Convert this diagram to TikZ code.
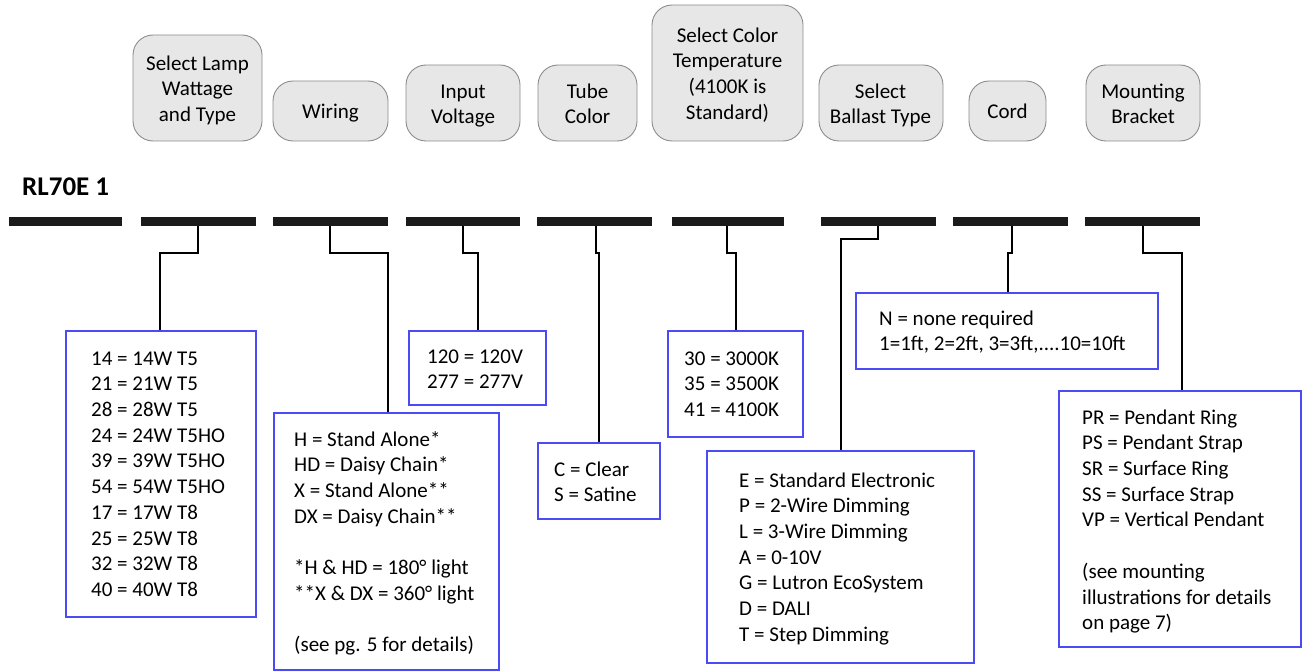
\documentclass[tikz,border=0pt]{standalone}
\usepackage{fontspec}
\setmainfont{Carlito}
\usetikzlibrary{fit}
\definecolor{boxblue}{RGB}{75,75,245}
\definecolor{pillfill}{RGB}{231,231,231}
\definecolor{pilldraw}{RGB}{140,140,140}
\definecolor{barcol}{RGB}{26,26,26}
\begin{document}
\begin{tikzpicture}[x=1pt,y=-1pt,
 pill/.style={draw=pilldraw, fill=pillfill, rounded corners=20pt, line width=0.9pt, inner sep=0pt},
 codebox/.style={draw=boxblue, line width=1.3pt, inner sep=0pt},
 barnode/.style={fill=barcol, inner sep=0pt},
 txt/.style={font=\fontsize{21}{25.7}\selectfont, inner sep=0pt, align=left, anchor=north west},
 ctxt/.style={font=\fontsize{21}{25.7}\selectfont, inner sep=0pt, align=center, anchor=north},
 conn/.style={draw=black, line width=2pt}]
\useasboundingbox (0,0) rectangle (1303,671);

% header pills
\node[pill, fit={(133,35) (262,141)}] (p1) {};
\node[pill, fit={(273,81) (388,141)}] (p2) {};
\node[pill, fit={(406,65) (520,141)}] (p3) {};
\node[pill, fit={(538,65) (637,141)}] (p4) {};
\node[pill, fit={(652,5) (803,141)}] (p5) {};
\node[pill, fit={(819,65) (943,141)}] (p6) {};
\node[pill, fit={(969,81) (1046,141)}] (p7) {};
\node[pill, fit={(1086,65) (1200,141)}] (p8) {};
\node[ctxt] (t1) at (197.5,52) {\strut Select Lamp\\Wattage\\and Type\strut};
\node[ctxt] (t2) at (330.5,100) {\strut Wiring\strut};
\node[ctxt] (t3) at (463,80) {\strut Input\\Voltage\strut};
\node[ctxt] (t4) at (587.5,80) {\strut Tube\\Color\strut};
\node[ctxt] (t5) at (727.5,24) {\strut Select Color\\Temperature\\(4100K is\\Standard)\strut};
\node[ctxt] (t6) at (880.5,80) {\strut Select\\Ballast Type\strut};
\node[ctxt] (t7) at (1007.5,100) {\strut Cord\strut};
\node[ctxt] (t8) at (1143,80) {\strut Mounting\\Bracket\strut};

% model label
\node[anchor=base west, inner sep=0pt, font=\fontsize{27}{32}\selectfont\bfseries] (model) at (22,196) {RL70E 1};

% bars
\node[barnode, fit={(9,217) (122,226)}] (bar1) {};
\node[barnode, fit={(141,217) (256,226)}] (bar2) {};
\node[barnode, fit={(273,217) (388,226)}] (bar3) {};
\node[barnode, fit={(406,217) (520,226)}] (bar4) {};
\node[barnode, fit={(537,217) (652,226)}] (bar5) {};
\node[barnode, fit={(672,217) (784,226)}] (bar6) {};
\node[barnode, fit={(821,217) (936,226)}] (bar7) {};
\node[barnode, fit={(953,217) (1068,226)}] (bar8) {};
\node[barnode, fit={(1085,217) (1200,226)}] (bar9) {};

% code boxes
\node[codebox, fit={(66,331) (256,617)}] (lamp) {};
\node[codebox, fit={(274,413) (499,670)}] (wiring) {};
\node[codebox, fit={(409,331) (546,405)}] (volt) {};
\node[codebox, fit={(538,443) (660,519)}] (tube) {};
\node[codebox, fit={(668,331) (803,437)}] (cct) {};
\node[codebox, fit={(707,451) (974,663)}] (ballast) {};
\node[codebox, fit={(856,293) (1158,369)}] (cord) {};
\node[codebox, fit={(1059,391) (1301,647)}] (mount) {};

\node[txt] (lampt) at (91,347) {\strut 14 = 14W T5\\21 = 21W T5\\28 = 28W T5\\24 = 24W T5HO\\39 = 39W T5HO\\54 = 54W T5HO\\17 = 17W T8\\25 = 25W T8\\32 = 32W T8\\40 = 40W T8\strut};
\node[txt] (wiringt) at (294,428) {\strut H = Stand Alone*\\HD = Daisy Chain*\\X = Stand Alone**\\DX = Daisy Chain**\\\strut\\*H \& HD = 180° light\\**X \& DX = 360° light\\\strut\\(see pg. 5 for details)\strut};
\node[txt] (voltt) at (427,345) {\strut 120 = 120V\\277 = 277V\strut};
\node[txt] (tubet) at (554,458) {\strut C = Clear\\S = Satine\strut};
\node[txt] (cctt) at (684,347) {\strut 30 = 3000K\\35 = 3500K\\41 = 4100K\strut};
\node[txt] (ballastt) at (739,469) {\strut E = Standard Electronic\\P = 2-Wire Dimming\\L = 3-Wire Dimming\\A = 0-10V\\G = Lutron EcoSystem\\D = DALI\\T = Step Dimming\strut};
\node[txt] (cordt) at (879,307) {\strut N = none required\\1=1ft, 2=2ft, 3=3ft,....10=10ft\strut};
\node[txt] (mountt) at (1082,406) {\strut PR = Pendant Ring\\PS = Pendant Strap\\SR = Surface Ring\\SS = Surface Strap\\VP = Vertical Pendant\\\strut\\(see mounting\\illustrations for details\\on page 7)\strut};

% connectors
\coordinate (k2) at (198,253);  \coordinate (j2) at (160,253);
\coordinate (k3) at (330,253);  \coordinate (j3) at (388,253);
\coordinate (k4) at (463,253);  \coordinate (j4) at (478,253);
\coordinate (k5) at (596,253);  \coordinate (j5) at (599,253);
\coordinate (k6) at (727,253);  \coordinate (j6) at (736,253);
\coordinate (k7) at (878,239);  \coordinate (j7) at (841,239);
\coordinate (k8) at (1012,253); \coordinate (j8) at (1008,253);
\coordinate (k9) at (1143,253); \coordinate (j9) at (1182,253);
\draw[conn] (bar2.south -| k2) -- (k2) -- (j2) -- (j2 |- lamp.north);
\draw[conn] (bar3.south -| k3) -- (k3) -- (j3) -- (j3 |- wiring.north);
\draw[conn] (bar4.south -| k4) -- (k4) -- (j4) -- (j4 |- volt.north);
\draw[conn] (bar5.south -| k5) -- (k5) -- (j5) -- (j5 |- tube.north);
\draw[conn] (bar6.south -| k6) -- (k6) -- (j6) -- (j6 |- cct.north);
\draw[conn] (bar7.south -| k7) -- (k7) -- (j7) -- (j7 |- ballast.north);
\draw[conn] (bar8.south -| k8) -- (k8) -- (j8) -- (j8 |- cord.north);
\draw[conn] (bar9.south -| k9) -- (k9) -- (j9) -- (j9 |- mount.north);
\end{tikzpicture}
\end{document}
